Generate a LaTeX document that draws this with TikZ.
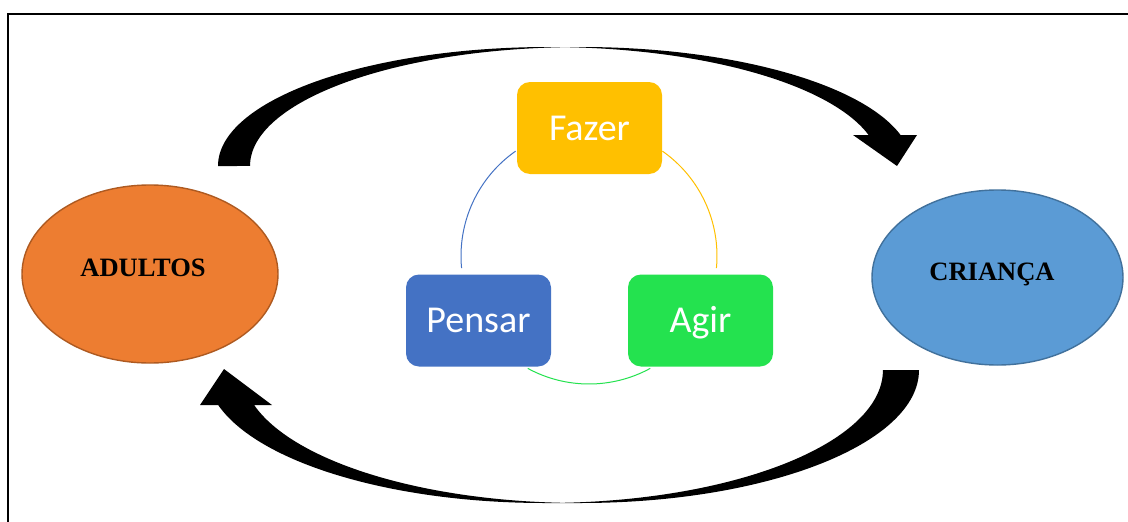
\documentclass[tikz,border=0pt]{standalone}
\usepackage{fontspec}
\setmainfont{Liberation Serif}
\newfontfamily\boxfont{Carlito}
\usetikzlibrary{shapes.geometric,calc}
\definecolor{orangeF}{HTML}{ED7D31}
\definecolor{orangeD}{HTML}{AE5A21}
\definecolor{blueF}{HTML}{5B9BD5}
\definecolor{blueD}{HTML}{41719C}
\definecolor{fazerC}{HTML}{FFC000}
\definecolor{pensarC}{HTML}{4472C4}
\definecolor{agirC}{HTML}{24E24F}
\tikzset{
  oval/.style={ellipse, draw, line width=1.4pt, inner sep=0pt},
  ovaltext/.style={font=\fontsize{26.5}{30}\selectfont\bfseries, text=black, anchor=base, inner sep=0pt},
  cyclebox/.style={rounded corners=13pt, minimum width=145pt, minimum height=92pt, inner sep=0pt,
    text=white, font=\boxfont\fontsize{38}{42}\selectfont, text height=24pt, text depth=0pt},
  cyclearc/.style={line width=1pt},
  bigarrow/.style={fill=black}
}
\begin{document}
\begin{tikzpicture}[x=1pt,y=1pt]
\useasboundingbox (0,0) rectangle (1128,-522);
\clip (0,0) rectangle (1128,-522);
\fill[white] (0,0) rectangle (1128,-522);
% frame
\draw[line width=1.8pt] (8,-540) -- (8,-14) -- (1150,-14);

% ellipses
\node[oval, fill=orangeF, draw=orangeD, minimum width=256pt, minimum height=178pt] (adultos) at (150,-274) {};
\node[ovaltext] (adultosT) at (143,-276.7) {ADULTOS};
\node[oval, fill=blueF, draw=blueD, minimum width=251pt, minimum height=175pt] (crianca) at (997.5,-277.5) {};
\node[ovaltext] (criancaT) at (992,-280) {CRIANÇA};

% cycle
\coordinate (c) at (589,-256);
\draw[cyclearc, pensarC] ($(c)+(185.4:128pt)$) arc[start angle=185.4, end angle=125, radius=128pt];
\draw[cyclearc, fazerC] ($(c)+(55:128pt)$) arc[start angle=55, end angle=-5.4, radius=128pt];
\draw[cyclearc, agirC] ($(c)+(-61.4:128pt)$) arc[start angle=-61.4, end angle=-118.6, radius=128pt];

\node[cyclebox, fill=fazerC] (fazer) at (589.5,-128) {Fazer};
\node[cyclebox, fill=pensarC] (pensar) at (478.5,-320.5) {Pensar};
\node[cyclebox, fill=agirC] (agir) at (700.5,-320.5) {Agir};

% top curved arrow (adultos -> crianca)
\fill[bigarrow] (218,-166)
  arc[start angle=180, end angle=90, x radius=331pt, y radius=119pt]
  -- (581,-47)
  arc[start angle=90, end angle=15.1, x radius=331pt, y radius=119pt]
  -- (917,-135) -- (897,-166) -- (853,-135) -- (868.6,-135)
  arc[start angle=15.1, end angle=87.23, x radius=331pt, y radius=119pt]
  arc[start angle=92.77, end angle=180, x radius=331pt, y radius=119pt]
  -- cycle;

% bottom curved arrow (crianca -> adultos)
\fill[bigarrow] (919,-370)
  arc[start angle=0, end angle=-90, x radius=338.4pt, y radius=133pt]
  -- (544.6,-503)
  arc[start angle=-90, end angle=-164.74, x radius=338.4pt, y radius=133pt]
  -- (200,-405) -- (224,-369) -- (272,-405) -- (254.1,-405)
  arc[start angle=-164.74, end angle=-93.05, x radius=338.4pt, y radius=133pt]
  arc[start angle=-86.95, end angle=0, x radius=338.4pt, y radius=133pt]
  -- cycle;
\end{tikzpicture}
\end{document}
